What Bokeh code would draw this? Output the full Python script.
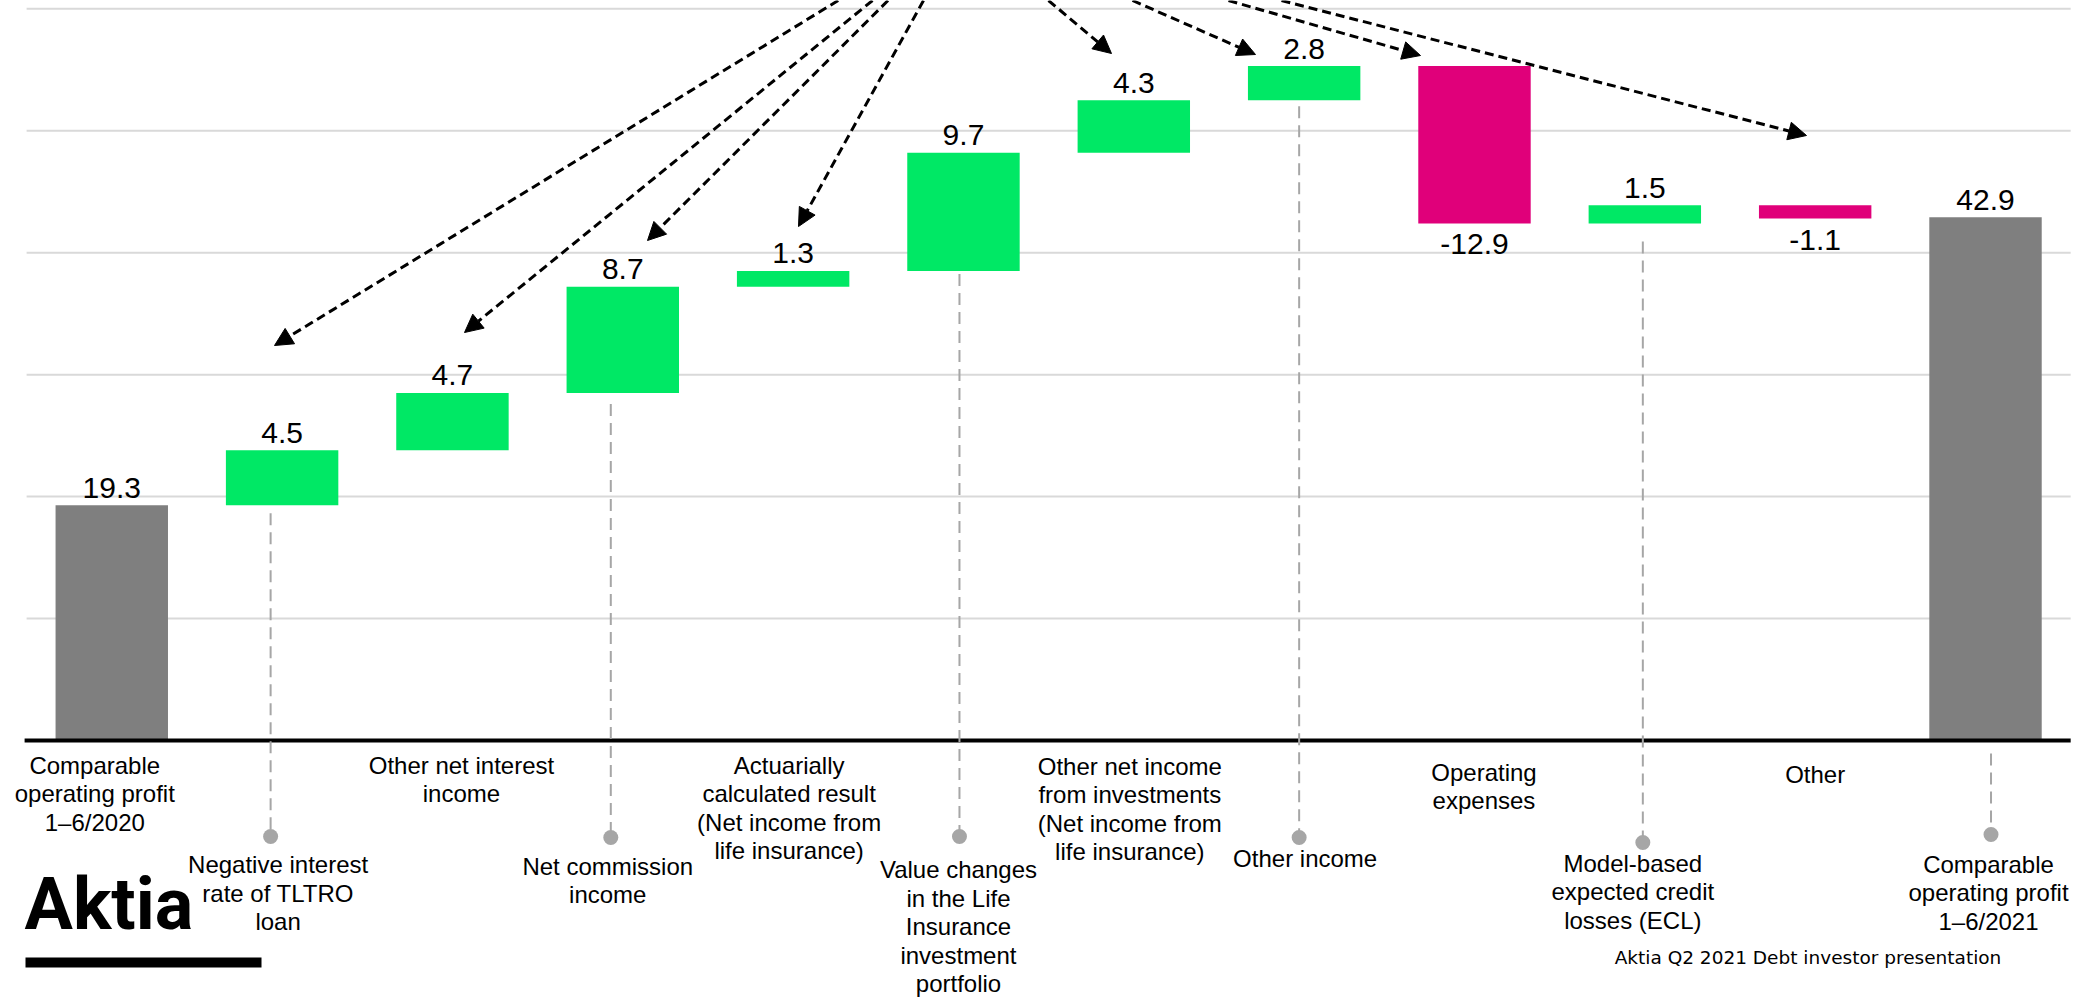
from bokeh.plotting import figure
from bokeh.models import Range1d, Arrow, NormalHead, Label, ColumnDataSource, BoxAnnotation
from bokeh.core.properties import value
from bokeh.embed import file_html
from bokeh.resources import INLINE

# ---------------- data ----------------
categories = [
    "Comparable\noperating profit\n1–6/2020",
    "Negative interest\nrate of TLTRO\nloan",
    "Other net interest\nincome",
    "Net commission\nincome",
    "Actuarially\ncalculated result\n(Net income from\nlife insurance)",
    "Value changes\nin the Life\nInsurance\ninvestment\nportfolio",
    "Other net income\nfrom investments\n(Net income from\nlife insurance)",
    "Other income",
    "Operating\nexpenses",
    "Model-based\nexpected credit\nlosses (ECL)",
    "Other",
    "Comparable\noperating profit\n1–6/2021",
]
values = [19.3, 4.5, 4.7, 8.7, 1.3, 9.7, 4.3, 2.8, -12.9, 1.5, -1.1, 42.9]
is_total = [True, False, False, False, False, False, False, False, False, False, False, True]
grid_ticks = [10, 20, 30, 40, 50, 60]
footer_text = "Aktia Q2 2021 Debt investor presentation"
logo_text = "Aktia"

# ---------------- layout helpers (page pixels -> data units) ----------------
FIG_W, FIG_H = 2080, 999
PX0 = 26.1           # page x of the left edge of the first category slot
UNIT_X = 170.34      # px per category
ZERO_Y = 740.0       # page y of value 0
UNIT_Y = 12.195      # px per unit of value


def px2x(px):
    return (px - PX0) / UNIT_X - 0.5


def py2y(py):
    return (ZERO_Y - py) / UNIT_Y


def dpx(px):
    return px / UNIT_X


def dpy(px):
    return px / UNIT_Y


GREEN = "#00E865"
MAGENTA = "#E0007A"
GRAY = "#7F7F7F"
DOT = "#A6A6A6"
FONT = value("Liberation Sans")

# waterfall geometry
n = len(categories)
xs = list(range(n))
bottoms, tops, colors = [], [], []
run = 0.0
for v, tot in zip(values, is_total):
    if tot:
        bottoms.append(0.0)
        tops.append(v)
        colors.append(GRAY)
        run = v
    else:
        bottoms.append(min(run, run + v))
        tops.append(max(run, run + v))
        colors.append(GREEN if v >= 0 else MAGENTA)
        run += v

p = figure(width=FIG_W, height=FIG_H, output_backend="svg", toolbar_location=None,
           x_range=Range1d(px2x(0), px2x(FIG_W)),
           y_range=Range1d(py2y(FIG_H), py2y(0)),
           min_border_left=0, min_border_right=0, min_border_top=0, min_border_bottom=0)
p.xaxis.visible = False
p.yaxis.visible = False
p.xgrid.visible = False
p.ygrid.visible = False
p.outline_line_color = None
p.background_fill_color = "white"
p.border_fill_color = "white"

# horizontal grid lines over the plotting width
p.segment(x0=[-0.5] * len(grid_ticks), y0=grid_ticks, x1=[n - 0.5] * len(grid_ticks), y1=grid_ticks,
          line_color="#D9D9D9", line_width=2)

# bars
src = ColumnDataSource(dict(x=xs, top=tops, bottom=bottoms, color=colors))
p.vbar(x="x", width=0.66, top="top", bottom="bottom", fill_color="color", line_color=None, source=src)

# zero axis line
p.segment(x0=[-0.5 - dpx(2)], y0=[0], x1=[n - 0.5], y1=[0], line_color="black", line_width=4)

# value labels (centre of the digits)
lx, ly, lt = [], [], []
for i, v in enumerate(values):
    lx.append(i)
    ly.append(tops[i] + dpy(17.5) if v >= 0 else bottoms[i] - dpy(21))
    lt.append(f"{v:.1f}")
p.text(x=lx, y=ly, text=lt, text_align="center", text_baseline="middle",
       text_font=FONT, text_font_size="30px", text_color="black")

# category labels (first-line centre in page px, horizontal offset in px)
label_line1_py = [767, 866.5, 767, 868, 767, 871.5, 768, 860, 774, 865, 776.5, 866]
label_dx_px = [-17, -4, 9, -15, -4, -5, -4, 1, 9.5, -12, 0, 3]
lab_x = [i + dpx(d) for i, d in zip(xs, label_dx_px)]
lab_y = [py2y(py - 16) for py in label_line1_py]
p.text(x=lab_x, y=lab_y, text=categories, text_align="center", text_baseline="top",
       text_font=FONT, text_font_size="24px", text_color="black",
       text_line_height=1.06)

# connectors with dots for the lower row of labels
low = [1, 3, 5, 7, 9, 11]
dot_dx_px = [-11.5, -12, -4, -5, -2, 5.5]
dot_py = [836, 837, 836, 837, 842, 834]
gap_px = [8, 11, 3, 6, 18, 13]
seg_x = [i + dpx(d) for i, d in zip(low, dot_dx_px)]
seg_y0 = [(0.0 if is_total[i] else bottoms[i]) - dpy(g) for i, g in zip(low, gap_px)]
seg_y1 = [py2y(py) for py in dot_py]
p.segment(x0=seg_x, y0=seg_y0, x1=seg_x, y1=seg_y1, line_color=DOT, line_width=2, line_dash="12 7")
p.scatter(x=seg_x, y=seg_y1, size=15, fill_color=DOT, line_color=None)

# dashed arrows coming from above the top edge, tips near the bars
arrow_start_px = [837.7, 872.0, 887.5, 923.0, 1048.0, 1132.0, 1228.0, 1281.0]
arrow_tip_px = [(274, 345), (464, 332), (647, 240), (798, 226), (1111, 53), (1255, 54), (1420, 55), (1806, 135)]
for sx, (tx, ty) in zip(arrow_start_px, arrow_tip_px):
    p.add_layout(Arrow(x_start=px2x(sx), y_start=py2y(0), x_end=px2x(tx), y_end=py2y(ty),
                       line_color="black", line_width=3, line_dash="9 5",
                       end=NormalHead(size=18, fill_color="black", line_color="black", line_width=1)))

# logo and footer
p.add_layout(Label(x=px2x(24), y=py2y(904), text=logo_text, text_align="left", text_baseline="middle",
                   text_font="Roboto", text_font_size="72px", text_color="black", text_font_style="bold"))
p.add_layout(BoxAnnotation(left=px2x(25), right=px2x(261), top=py2y(957), bottom=py2y(967),
                           fill_color="black", fill_alpha=1.0, line_color=None))
p.add_layout(Label(x=px2x(1807.5), y=py2y(957), text=footer_text, text_align="center", text_baseline="middle",
                   text_font="DejaVu Sans", text_font_size="18.5px", text_color="black"))

open("out.html", "w").write(file_html(p, INLINE))
